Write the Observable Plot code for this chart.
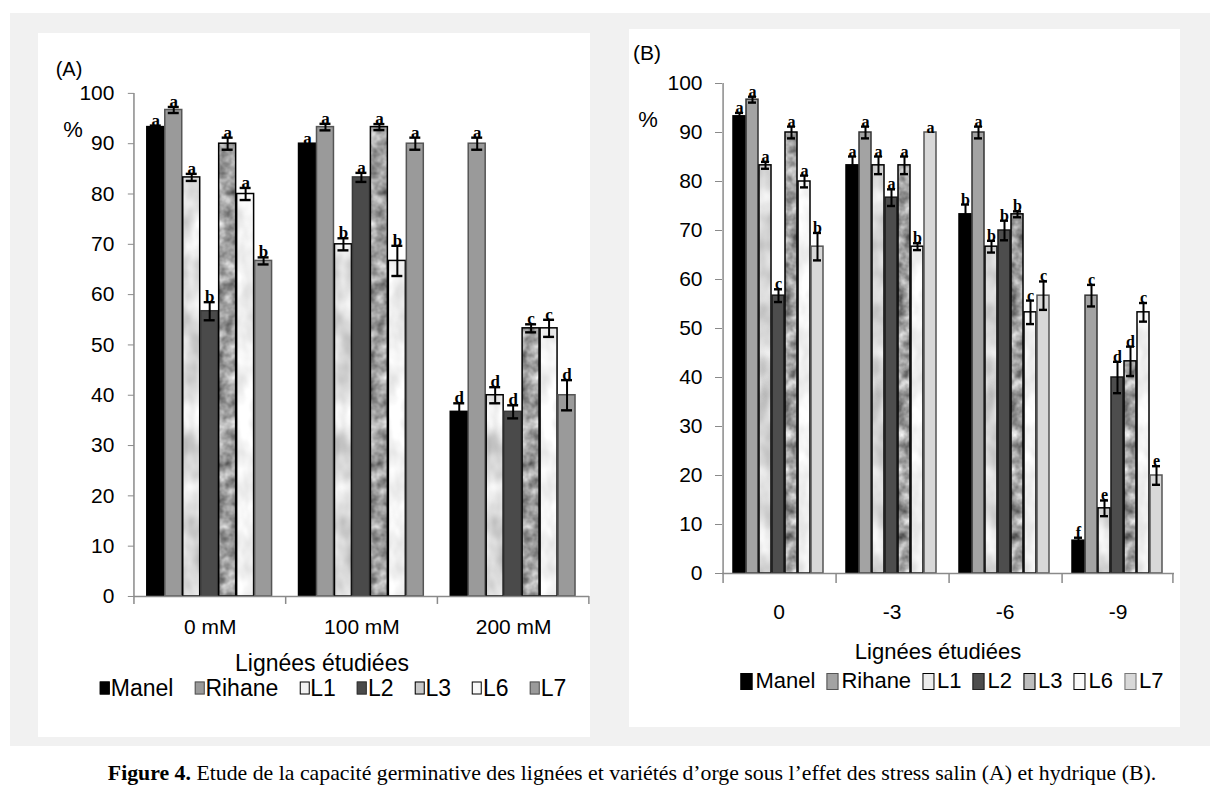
<!DOCTYPE html>
<html><head><meta charset="utf-8">
<script src="https://cdn.jsdelivr.net/npm/d3@7"></script>
<script src="https://cdn.jsdelivr.net/npm/@observablehq/plot@0.6"></script>
<style>
html,body{margin:0;padding:0;}
body{background:#fff;width:1210px;height:812px;position:relative;overflow:hidden;font-family:"Liberation Sans",Arial,sans-serif;}
#bg{position:absolute;left:10px;top:13px;width:1200px;height:733px;background:#f1f1f1;}
.panel{position:absolute;background:#fff;}
#pA{left:38px;top:33px;width:552px;height:704px;}
#pB{left:629px;top:29px;width:551px;height:698px;}
.panel svg{position:absolute;left:0;top:0;overflow:visible;}
.t{position:absolute;white-space:nowrap;line-height:1;color:#000;transform:translate(-50%,-50%);}
.leg{position:absolute;display:flex;align-items:center;white-space:nowrap;transform:translate(-50%,-50%);line-height:1;}
.leg .it{display:flex;align-items:center;}
.leg .sw{display:inline-block;box-sizing:border-box;}
#cap{position:absolute;left:632px;top:773px;transform:translate(-50%,-50%);white-space:nowrap;font-family:"Liberation Serif","Times New Roman",serif;font-size:21.8px;color:#000;}
</style></head><body>
<div id="bg"></div>
<div class="panel" id="pA"></div>
<div class="panel" id="pB"></div>
<div id="cap"><b>Figure 4.</b> Etude de la capacité germinative des lignées et variétés d’orge sous l’effet des stress salin (A) et hydrique (B).</div>
<script>
// ---------- data ----------
const seriesNames = ["Manel", "Rihane", "L1", "L2", "L3", "L6", "L7"];
const yTicks = [0, 10, 20, 30, 40, 50, 60, 70, 80, 90, 100];

// Panel A : salt stress
const groupsA = ["0 mM", "100 mM", "200 mM"];
const valuesA = [
  [93.3, 96.7, 83.3, 56.7, 90.0, 80.0, 66.7],
  [90.0, 93.3, 70.0, 83.3, 93.3, 66.7, 90.0],
  [36.7, 90.0, 40.0, 36.7, 53.3, 53.3, 40.0]
];
const errorsA = [
  [0.3, 0.6, 0.7, 1.8, 1.2, 1.2, 0.7],
  [0.0, 0.65, 1.2, 0.9, 0.6, 3.0, 1.2],
  [1.7, 1.2, 1.6, 1.3, 0.8, 1.7, 3.0]
];
const lettersA = [
  ["a", "a", "a", "b", "a", "a", "b"],
  ["a", "a", "b", "a", "a", "b", "a"],
  ["d", "a", "d", "d", "c", "c", "d"]
];

// Panel B : water stress
const groupsB = ["0", "-3", "-6", "-9"];
const valuesB = [
  [93.3, 96.7, 83.3, 56.7, 90.0, 80.0, 66.7],
  [83.3, 90.0, 83.3, 76.7, 83.3, 66.7, 90.0],
  [73.3, 90.0, 66.7, 70.0, 73.3, 53.3, 56.7],
  [6.7, 56.7, 13.3, 40.0, 43.3, 53.3, 20.0]
];
const errorsB = [
  [0.7, 0.6, 0.7, 1.3, 1.2, 1.2, 2.8],
  [1.8, 1.2, 1.8, 1.7, 1.8, 0.7, 0.0],
  [2.0, 1.2, 1.2, 2.0, 0.6, 2.4, 2.9],
  [0.6, 2.2, 1.6, 3.2, 3.0, 1.9, 1.9]
];
const lettersB = [
  ["a", "a", "a", "c", "a", "a", "b"],
  ["a", "a", "a", "a", "a", "b", "a"],
  ["b", "a", "b", "b", "b", "c", "c"],
  ["f", "c", "e", "d", "d", "c", "e"]
];

// ---------- styles ----------
const SANS = '"Liberation Sans",Arial,sans-serif';
const fillsA   = ["#000000", "#9a9a9a", "url(#A-tex1)", "#4a4a4a", "url(#A-tex3)", "url(#A-tex6)", "#9a9a9a"];
const strokesA = ["#000000", "#555555", "#000000", "#3a3a3a", "#000000", "#000000", "#555555"];
const fillsB   = ["#000000", "#a3a3a3", "url(#B-tex1)", "#4d4d4d", "url(#B-tex3)", "url(#B-tex6)", "#d8d8d8"];
const strokesB = ["#000000", "#333333", "#000000", "#1a1a1a", "#000000", "#000000", "#555555"];
const legendSwA = ["#000", "#9a9a9a", "#f2f2f2", "#4a4a4a", "#c8c8c8", "#f8f8f8", "#9a9a9a"];
const legendBdA = ["#000", "#555", "#000", "#333", "#000", "#000", "#555"];
const legendSwB = ["#000", "#a3a3a3", "#ececec", "#4d4d4d", "#bdbdbd", "#fafafa", "#d8d8d8"];
const legendBdB = ["#000", "#555", "#000", "#222", "#000", "#000", "#777"];

function textureDefs(prefix) {
  // grey noise textures (style only)
  const tex = [
    ["tex1", "0.04 0.025", 0.45, 0.64, 11],
    ["tex3", "0.08", 0.85, 0.2, 5],
    ["tex6", "0.05 0.03", 0.25, 0.83, 21]
  ];
  return `<defs>${tex.map(([id, bf, a, b, seed]) => `
    <filter id="${prefix}-f${id}" filterUnits="userSpaceOnUse" x="0" y="0" width="240" height="700" color-interpolation-filters="sRGB">
      <feTurbulence type="fractalNoise" baseFrequency="${bf}" numOctaves="3" seed="${seed}"/>
      <feColorMatrix type="matrix" values="${a} 0 0 0 ${b}  ${a} 0 0 0 ${b}  ${a} 0 0 0 ${b}  0 0 0 0 1"/>
    </filter>
    <pattern id="${prefix}-${id}" patternUnits="userSpaceOnUse" x="0" y="0" width="240" height="700">
      <rect width="240" height="700" filter="url(#${prefix}-f${id})"/>
    </pattern>`).join("")}</defs>`;
}

function makePanel(cfg) {
  const n = seriesNames.length;
  const data = cfg.groups.flatMap((g, i) => seriesNames.map((s, j) => ({
    group: g, series: s, value: cfg.values[i][j], err: cfg.errors[i][j], letter: cfg.letters[i][j]
  })));
  const withErr = data.filter(d => d.err > 0);
  const facetW = (cfg.width - cfg.ml - cfg.mr) / cfg.groups.length;
  const step = facetW / (n - cfg.pi + 2 * cfg.po);
  const bw = step * (1 - cfg.pi);
  const edge = step * cfg.po + bw / 2;
  const axisGrey = "#8a8a8a";
  const marks = [
    Plot.axisY({ticks: yTicks, tickSize: cfg.tickSize, tickPadding: cfg.tickPad, stroke: axisGrey, fill: "#000", label: null}),
    Plot.axisFx({anchor: "bottom", tickSize: 0, tickPadding: cfg.fxPad, label: null, fill: "#000"})
  ];
  seriesNames.forEach((s, j) => {
    marks.push(Plot.barY(data.filter(d => d.series === s), {
      fx: "group", x: "series", y: "value",
      fill: cfg.fills[j], stroke: cfg.strokes[j], strokeWidth: cfg.barSW
    }));
  });
  marks.push(Plot.ruleY([0], {stroke: axisGrey, strokeWidth: 1.5}));
  // y-axis line + boundary ticks
  marks.push(Plot.ruleX([cfg.groups[0]], {fx: d => d, x: () => seriesNames[0], y1: 0, y2: 100, dx: -edge, insetTop: cfg.below, stroke: axisGrey, strokeWidth: 1.5}));
  marks.push(Plot.ruleX(cfg.groups.slice(1), {fx: d => d, x: () => seriesNames[0], y1: 0, y2: 0, dx: -edge, insetTop: cfg.below, stroke: axisGrey, strokeWidth: 1.5}));
  marks.push(Plot.ruleX([cfg.groups[cfg.groups.length - 1]], {fx: d => d, x: () => seriesNames[n - 1], y1: 0, y2: 0, dx: edge, insetTop: cfg.below, stroke: axisGrey, strokeWidth: 1.5}));
  // error bars
  marks.push(Plot.ruleX(withErr, {fx: "group", x: "series", y1: d => d.value - d.err, y2: d => d.value + d.err, stroke: "#000", strokeWidth: 2}));
  marks.push(Plot.tickY(withErr, {fx: "group", x: "series", y: d => d.value + d.err, stroke: "#000", strokeWidth: 2.4, insetLeft: cfg.capInset, insetRight: cfg.capInset}));
  marks.push(Plot.tickY(withErr, {fx: "group", x: "series", y: d => d.value - d.err, stroke: "#000", strokeWidth: 2.4, insetLeft: cfg.capInset, insetRight: cfg.capInset}));
  // significance letters
  marks.push(Plot.text(data, {fx: "group", x: "series", y: d => d.value + d.err, text: "letter", lineAnchor: "bottom", dy: cfg.letterDy,
    fontFamily: '"Liberation Serif","Times New Roman",serif', fontSize: cfg.letterFs, fontWeight: "bold", fill: "#000"}));

  const svg = Plot.plot({
    width: cfg.width, height: cfg.height,
    marginLeft: cfg.ml, marginRight: cfg.mr, marginTop: cfg.mt, marginBottom: cfg.mb,
    style: {fontFamily: cfg.font, fontSize: cfg.fs + "px", background: "transparent", overflow: "visible"},
    fx: {domain: cfg.groups, padding: 0},
    x: {domain: seriesNames, paddingInner: cfg.pi, paddingOuter: cfg.po, axis: null},
    y: {domain: [0, 100]},
    marks
  });
  svg.insertAdjacentHTML("afterbegin", textureDefs(cfg.prefix));
  return svg;
}

function addText(panel, txt, cx, cy, size, font, extra) {
  const d = document.createElement("div");
  d.className = "t";
  d.textContent = txt;
  d.style.left = cx + "px"; d.style.top = cy + "px";
  d.style.fontSize = size + "px"; d.style.fontFamily = font;
  if (extra) Object.assign(d.style, extra);
  panel.appendChild(d);
}

function addLegend(panel, cx, cy, size, font, swW, swH, fills, borders, gap, swGap) {
  const leg = document.createElement("div");
  leg.className = "leg";
  leg.style.left = cx + "px"; leg.style.top = cy + "px";
  leg.style.fontSize = size + "px"; leg.style.fontFamily = font;
  seriesNames.forEach((s, j) => {
    const it = document.createElement("span");
    it.className = "it";
    if (j > 0) it.style.marginLeft = gap + "px";
    const sw = document.createElement("span");
    sw.className = "sw";
    sw.style.width = swW + "px"; sw.style.height = swH + "px";
    sw.style.background = fills[j];
    sw.style.border = "1.5px solid " + borders[j];
    sw.style.marginRight = swGap + "px";
    const lab = document.createElement("span");
    lab.textContent = s;
    it.appendChild(sw); it.appendChild(lab);
    leg.appendChild(it);
  });
  panel.appendChild(leg);
}

// ---------- panel A ----------
const pA = document.getElementById("pA");
pA.appendChild(makePanel({
  prefix: "A", groups: groupsA, values: valuesA, errors: errorsA, letters: lettersA,
  width: 553, height: 704, ml: 95, mr: 0, mt: 60, mb: 140,
  pi: 0.05, po: 0.73, tickSize: 6, tickPad: 14, fxPad: 23, below: 8, capInset: 3,
  font: SANS, fs: 21, fills: fillsA, strokes: strokesA, barSW: 1.5, letterFs: 17, letterDy: 0
}));
addText(pA, "(A)", 31, 36, 20, SANS);
addText(pA, "%", 35, 97, 22, SANS);
addText(pA, "Lignées étudiées", 284, 630, 23, SANS);
addLegend(pA, 295, 655, 23, SANS, 10, 13, legendSwA, legendBdA, 21, 1);

// ---------- panel B ----------
const pB = document.getElementById("pB");
pB.appendChild(makePanel({
  prefix: "B", groups: groupsB, values: valuesB, errors: errorsB, letters: lettersB,
  width: 551, height: 698, ml: 92, mr: 6, mt: 54, mb: 154,
  pi: 0.05, po: 0.75, tickSize: 7, tickPad: 13, fxPad: 31, below: 10, capInset: 2,
  font: SANS, fs: 21, fills: fillsB, strokes: strokesB, barSW: 1.5, letterFs: 16, letterDy: 0
}));
addText(pB, "(B)", 18, 23, 21, SANS);
addText(pB, "%", 19, 91, 22, SANS);
addText(pB, "Lignées étudiées", 309, 623, 22, SANS);
addLegend(pB, 323, 652, 22, SANS, 12, 17, legendSwB, legendBdB, 11, 3);
</script>
</body></html>
